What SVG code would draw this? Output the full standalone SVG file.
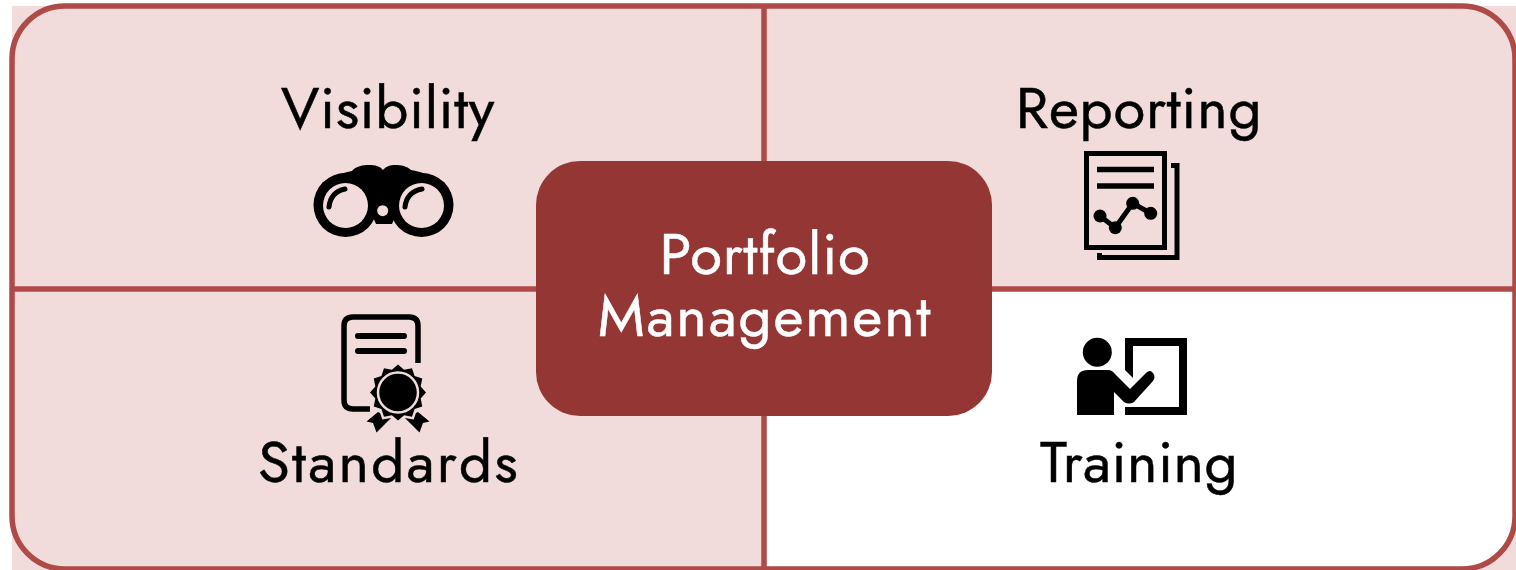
<svg xmlns="http://www.w3.org/2000/svg" width="1516" height="570" viewBox="0 0 1516 570">
<style>
.lab{font-family:"Jost","Liberation Sans","DejaVu Sans",sans-serif;font-size:58px;fill:#000;stroke:#000;stroke-width:.5px;text-anchor:middle}
.ctr{fill:#fff;stroke:#fff}
.ln{stroke:#ae4a47;stroke-width:5.500;fill:none}
.k{fill:#000}
.p{fill:#f2dcdb}
.s{stroke:#000;fill:none;stroke-linecap:round;stroke-linejoin:round}
.b{stroke:#000;fill:none}
</style>
<g id="quadrants">
<rect x="12" y="6" width="1504" height="564" fill="#f2dcdb"/>
<path d="M764 289H1515V516A53 53 0 0 1 1462 569H764Z" fill="#fff"/>
</g>
<g id="connectors">
<rect class="ln" x="12" y="6" width="1503" height="563" rx="53" ry="53"/>
<path class="ln" d="M764 6V569M12 289H1515"/>
</g>
<g id="visibility">
<text class="lab" x="388" y="128" letter-spacing="0.6">Visibility</text>
<circle class="k" cx="345.500" cy="205" r="32"/>
<circle class="k" cx="421.500" cy="205" r="32"/>
<path class="k" d="M318 190C326 178 340 173 352 171C356 166 363 165 369 165C375 165 380 166 383 170C386 166 391 165 395 165C401 165 407 166 411 170C424 172 438 178 448 190V205H372V215L376 224H392L396 215V205H318Z"/>
<circle class="p" cx="345.500" cy="205.500" r="22.500"/>
<circle class="p" cx="421.500" cy="205.500" r="22.500"/>
<circle class="p" cx="382.700" cy="210.700" r="5.500"/>
<path class="s" stroke-width="5" d="M329 207C330 197 336 191 345 189"/>
<path class="s" stroke-width="5" d="M405 207C406 197 412 191 422 189"/>
</g>
<g id="reporting">
<text class="lab" x="1139" y="128" letter-spacing="0.8">Reporting</text>
<rect class="b" x="1086.500" y="153.500" width="78" height="94" stroke-width="5"/>
<path class="b" stroke-width="5" d="M1171 165.500H1177V257.500H1099.500V253"/>
<path class="b" stroke-width="5.500" d="M1097 169.500H1154M1097 186H1154"/>
<path class="b" stroke-width="5" d="M1100 216L1115.300 227.700L1132.700 203.300L1150.700 213.300"/>
<circle class="k" cx="1100" cy="216" r="6.500"/><circle class="k" cx="1115.300" cy="227.700" r="6.500"/><circle class="k" cx="1132.700" cy="203.300" r="6.500"/><circle class="k" cx="1150.700" cy="213.300" r="6.500"/>
</g>
<g id="standards">
<text class="lab" x="389" y="482" letter-spacing="2.300">Standards</text>
<path class="b" stroke-width="5.500" d="M370 409H353Q344 409 344 400V326Q344 317 353 317H409Q418 317 418 326V363"/>
<path class="s" stroke-width="6" d="M358 336H404M358 351H404"/>
<path class="k" d="M378 412L366.500 421.500L373 423L376.500 432.500L391 418ZM418 412L429.500 421.500L423 423L419.500 432.500L405 418Z"/>
<path class="k" stroke="#f2dcdb" stroke-width="5" paint-order="stroke" d="M398 364.500L404.100 369.800L412 368.250L414.600 375.900L422.250 378.500L420.700 386.400L426 392.500L420.700 398.600L422.250 406.500L414.600 409.100L412 416.750L404.100 415.200L398 420.500L391.900 415.200L384 416.750L381.400 409.100L373.750 406.500L375.300 398.600L370 392.500L375.300 386.400L373.750 378.500L381.400 375.900L384 368.250L391.900 369.800Z"/>
<circle cx="398" cy="392.500" r="20" fill="none" stroke="#f2dcdb" stroke-width="2.500"/>
</g>
<g id="training">
<text class="lab" x="1139" y="482" letter-spacing="0.5">Training</text>
<circle class="k" cx="1097.300" cy="352.300" r="14.500"/>
<path class="k" d="M1077 381Q1077 370 1088 370H1108Q1112 370 1115 374L1130 389L1146 373Q1150 369 1153 373Q1156 377 1153 381L1134 402Q1129 405 1124 402L1114 392V415H1077Z"/>
<path class="k" d="M1125 338H1187V415H1125V407H1179V346H1133V378L1125 370Z"/>
</g>
<g id="portfolio-management">
<rect x="536" y="161" width="456" height="255" rx="44" ry="44" fill="#943634"/>
<text class="lab ctr" x="765" y="274" letter-spacing="0.8">Portfolio</text>
<text class="lab ctr" x="765" y="336" letter-spacing="1.900">Management</text>
</g>
</svg>
